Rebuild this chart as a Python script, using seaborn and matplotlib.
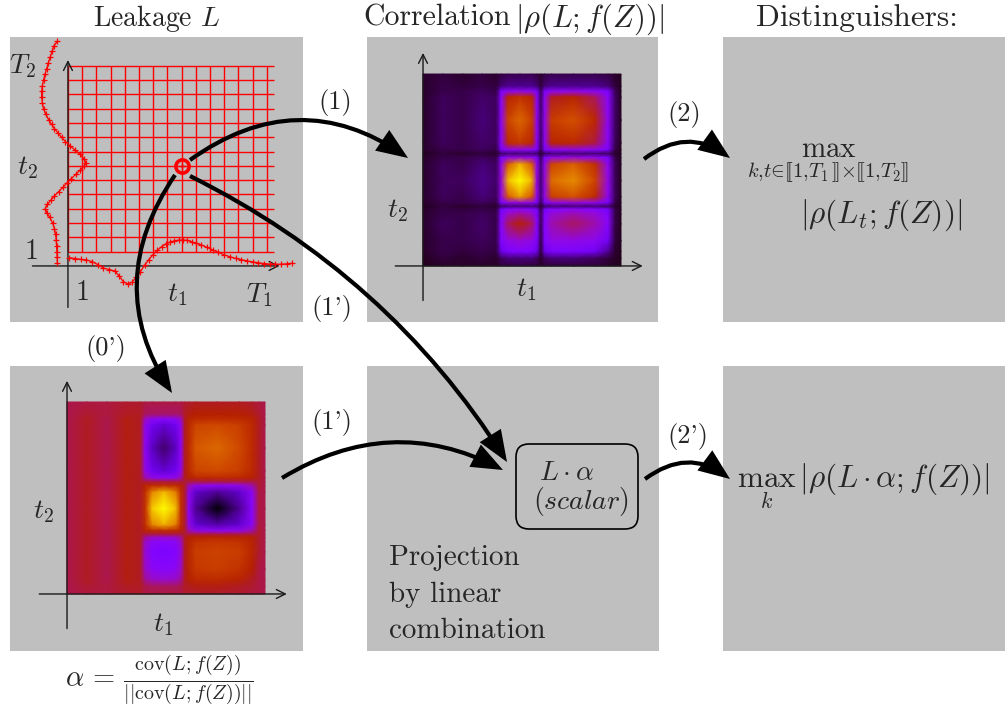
import numpy as np
import matplotlib
matplotlib.use("Agg")
import matplotlib.pyplot as plt
import seaborn as sns
from matplotlib.patches import FancyArrowPatch, FancyBboxPatch

# ---------------------------------------------------------------- data
# leakage grid size and the selected sample (t1, t2)
T1, T2 = 14, 14
t1_sel, t2_sel = 8, 7

# leakage trace along t1 (drawn under the grid)
trace1_t = [0.1, 0.5, 0.9, 1.3, 1.7, 2.1, 2.5, 2.9, 3.3, 3.6, 3.9, 4.2, 4.5, 4.8, 5.1,
            5.4, 5.7, 6.0, 6.3, 6.6, 6.9, 7.2, 7.5, 7.8, 8.1, 8.4, 8.7, 9.0, 9.4, 9.8,
            10.2, 10.6, 11.0, 11.4, 11.8, 12.2, 12.6, 13.0, 13.4, 13.8, 14.2, 14.6, 15.0,
            15.4, 15.8]
trace1_v = [0.58, 0.52, 0.46, 0.42, 0.30, 0.10, -0.15, -0.25, -0.35, -0.70, -1.10, -1.25,
            -1.15, -0.80, -0.40, 0.05, 0.45, 0.80, 1.10, 1.35, 1.55, 1.68, 1.76, 1.81, 1.82,
            1.78, 1.70, 1.60, 1.46, 1.30, 1.12, 0.95, 0.78, 0.64, 0.53, 0.44, 0.36, 0.28,
            0.22, 0.17, 0.13, 0.12, 0.12, 0.15, 0.19]

# leakage trace along t2 (drawn left of the grid)
trace2_t = [0.2, 0.6, 1.0, 1.4, 1.8, 2.2, 2.6, 3.0, 3.4, 3.7, 4.0, 4.3, 4.6, 4.9, 5.2, 5.5,
            5.8, 6.1, 6.4, 6.7, 7.0, 7.2, 7.5, 7.8, 8.1, 8.4, 8.7, 9.0, 9.3, 9.6, 9.9, 10.2,
            10.6, 11.0, 11.4, 11.8, 12.2, 12.6, 13.0, 13.4, 13.8, 14.2, 14.6, 15.0, 15.4, 15.7]
trace2_v = [-0.75, -0.76, -0.78, -0.80, -0.83, -0.87, -0.95, -1.08, -1.28, -1.48, -1.60,
            -1.45, -1.20, -0.95, -0.65, -0.35, -0.08, 0.22, 0.55, 0.85, 1.15, 1.27, 1.12,
            0.85, 0.50, 0.15, -0.18, -0.45, -0.70, -0.95, -1.15, -1.35, -1.55, -1.72, -1.80,
            -1.85, -1.85, -1.80, -1.72, -1.62, -1.50, -1.38, -1.25, -1.12, -0.98, -0.75]

# sample positions of the 2-D maps (fractions of the t1 / t2 ranges)
map_t1 = [0.00, 0.10, 0.20, 0.30, 0.37, 0.395, 0.43, 0.49, 0.55, 0.575, 0.595, 0.615,
          0.65, 0.76, 0.87, 0.935, 0.97, 1.00]
map_t2 = [1.00, 0.935, 0.91, 0.88, 0.76, 0.64, 0.605, 0.585, 0.565, 0.53, 0.445, 0.36,
          0.33, 0.31, 0.295, 0.27, 0.22, 0.13, 0.075, 0.04, 0.00]

# |rho(L; f(Z))| (normalised), one row per t2 sample, top row first
corr_map = [
    [0.03, 0.04, 0.03, 0.04, 0.03, 0.04, 0.05, 0.05, 0.05, 0.04, 0.03, 0.04, 0.05, 0.05, 0.05, 0.04, 0.03, 0.02],
    [0.03, 0.05, 0.04, 0.05, 0.04, 0.08, 0.10, 0.10, 0.10, 0.08, 0.04, 0.08, 0.10, 0.10, 0.10, 0.08, 0.04, 0.02],
    [0.03, 0.05, 0.05, 0.06, 0.05, 0.24, 0.30, 0.32, 0.30, 0.24, 0.06, 0.24, 0.30, 0.32, 0.30, 0.24, 0.06, 0.02],
    [0.03, 0.06, 0.05, 0.07, 0.06, 0.28, 0.52, 0.58, 0.52, 0.30, 0.07, 0.30, 0.48, 0.52, 0.44, 0.28, 0.07, 0.02],
    [0.03, 0.06, 0.05, 0.08, 0.06, 0.30, 0.64, 0.74, 0.62, 0.32, 0.08, 0.32, 0.62, 0.68, 0.54, 0.30, 0.07, 0.02],
    [0.03, 0.06, 0.05, 0.07, 0.06, 0.28, 0.54, 0.60, 0.52, 0.30, 0.07, 0.30, 0.52, 0.54, 0.46, 0.28, 0.06, 0.02],
    [0.03, 0.05, 0.05, 0.06, 0.05, 0.24, 0.30, 0.32, 0.30, 0.24, 0.06, 0.24, 0.30, 0.32, 0.30, 0.24, 0.05, 0.02],
    [0.02, 0.04, 0.03, 0.04, 0.03, 0.06, 0.08, 0.08, 0.08, 0.06, 0.03, 0.06, 0.08, 0.08, 0.08, 0.06, 0.03, 0.02],
    [0.03, 0.05, 0.05, 0.06, 0.05, 0.24, 0.32, 0.34, 0.32, 0.24, 0.06, 0.24, 0.32, 0.34, 0.32, 0.24, 0.05, 0.02],
    [0.03, 0.06, 0.05, 0.08, 0.06, 0.32, 0.70, 0.88, 0.70, 0.32, 0.08, 0.32, 0.64, 0.72, 0.56, 0.30, 0.06, 0.02],
    [0.03, 0.06, 0.06, 0.09, 0.07, 0.34, 0.90, 1.00, 0.88, 0.34, 0.08, 0.34, 0.75, 0.82, 0.64, 0.32, 0.06, 0.02],
    [0.03, 0.06, 0.05, 0.08, 0.06, 0.32, 0.70, 0.85, 0.68, 0.32, 0.08, 0.32, 0.62, 0.68, 0.54, 0.30, 0.06, 0.02],
    [0.03, 0.05, 0.05, 0.06, 0.05, 0.24, 0.32, 0.34, 0.32, 0.24, 0.06, 0.24, 0.32, 0.34, 0.32, 0.24, 0.05, 0.02],
    [0.02, 0.04, 0.03, 0.04, 0.03, 0.06, 0.08, 0.08, 0.08, 0.06, 0.03, 0.06, 0.08, 0.08, 0.08, 0.06, 0.03, 0.02],
    [0.03, 0.05, 0.04, 0.05, 0.04, 0.22, 0.28, 0.30, 0.28, 0.22, 0.05, 0.22, 0.28, 0.30, 0.28, 0.22, 0.05, 0.02],
    [0.03, 0.05, 0.05, 0.06, 0.05, 0.26, 0.36, 0.40, 0.36, 0.26, 0.06, 0.26, 0.34, 0.38, 0.34, 0.26, 0.05, 0.02],
    [0.03, 0.06, 0.05, 0.07, 0.05, 0.28, 0.44, 0.50, 0.44, 0.28, 0.06, 0.28, 0.38, 0.44, 0.38, 0.28, 0.05, 0.02],
    [0.03, 0.05, 0.05, 0.06, 0.05, 0.26, 0.32, 0.34, 0.32, 0.26, 0.05, 0.26, 0.32, 0.32, 0.30, 0.20, 0.04, 0.02],
    [0.03, 0.05, 0.04, 0.05, 0.04, 0.18, 0.24, 0.26, 0.24, 0.18, 0.04, 0.18, 0.24, 0.24, 0.20, 0.10, 0.03, 0.02],
    [0.02, 0.04, 0.03, 0.04, 0.03, 0.06, 0.08, 0.08, 0.08, 0.06, 0.03, 0.06, 0.08, 0.08, 0.06, 0.04, 0.03, 0.02],
    [0.02, 0.03, 0.03, 0.03, 0.03, 0.04, 0.04, 0.05, 0.04, 0.04, 0.03, 0.04, 0.04, 0.04, 0.04, 0.03, 0.02, 0.02],
]

# signed projection vector alpha (rescaled to [0, 1]), same layout
alpha_map = [
    [0.45, 0.46, 0.46, 0.47, 0.47, 0.46, 0.46, 0.46, 0.46, 0.46, 0.47, 0.47, 0.48, 0.48, 0.48, 0.47, 0.46, 0.45],
    [0.45, 0.47, 0.46, 0.48, 0.48, 0.44, 0.43, 0.43, 0.43, 0.44, 0.48, 0.49, 0.50, 0.50, 0.50, 0.49, 0.47, 0.45],
    [0.45, 0.48, 0.45, 0.49, 0.48, 0.36, 0.30, 0.28, 0.30, 0.36, 0.48, 0.52, 0.55, 0.56, 0.55, 0.52, 0.48, 0.45],
    [0.45, 0.48, 0.45, 0.49, 0.48, 0.32, 0.20, 0.16, 0.20, 0.32, 0.48, 0.54, 0.64, 0.66, 0.62, 0.54, 0.48, 0.45],
    [0.45, 0.48, 0.45, 0.49, 0.48, 0.30, 0.14, 0.07, 0.14, 0.30, 0.48, 0.55, 0.70, 0.74, 0.66, 0.55, 0.48, 0.45],
    [0.45, 0.48, 0.45, 0.49, 0.48, 0.32, 0.20, 0.16, 0.20, 0.32, 0.48, 0.54, 0.64, 0.66, 0.62, 0.54, 0.48, 0.45],
    [0.45, 0.48, 0.45, 0.49, 0.48, 0.38, 0.32, 0.30, 0.32, 0.38, 0.48, 0.51, 0.54, 0.55, 0.54, 0.51, 0.48, 0.45],
    [0.45, 0.48, 0.45, 0.49, 0.48, 0.46, 0.46, 0.46, 0.46, 0.46, 0.47, 0.46, 0.46, 0.46, 0.46, 0.46, 0.47, 0.45],
    [0.45, 0.48, 0.45, 0.49, 0.48, 0.52, 0.55, 0.56, 0.55, 0.52, 0.47, 0.38, 0.32, 0.30, 0.32, 0.38, 0.47, 0.45],
    [0.45, 0.48, 0.45, 0.49, 0.48, 0.56, 0.80, 0.90, 0.78, 0.56, 0.47, 0.32, 0.15, 0.10, 0.15, 0.30, 0.46, 0.45],
    [0.45, 0.48, 0.45, 0.49, 0.48, 0.58, 0.92, 1.00, 0.90, 0.58, 0.47, 0.30, 0.10, 0.00, 0.10, 0.28, 0.46, 0.45],
    [0.45, 0.48, 0.45, 0.49, 0.48, 0.56, 0.80, 0.88, 0.78, 0.56, 0.47, 0.32, 0.16, 0.12, 0.16, 0.30, 0.46, 0.45],
    [0.45, 0.48, 0.45, 0.49, 0.48, 0.52, 0.55, 0.56, 0.55, 0.52, 0.47, 0.38, 0.32, 0.30, 0.32, 0.38, 0.47, 0.45],
    [0.45, 0.48, 0.45, 0.49, 0.48, 0.46, 0.46, 0.46, 0.46, 0.46, 0.47, 0.46, 0.46, 0.46, 0.46, 0.46, 0.47, 0.45],
    [0.45, 0.48, 0.45, 0.49, 0.48, 0.40, 0.36, 0.35, 0.36, 0.40, 0.48, 0.50, 0.52, 0.52, 0.52, 0.50, 0.47, 0.45],
    [0.45, 0.48, 0.45, 0.49, 0.48, 0.36, 0.30, 0.28, 0.30, 0.36, 0.48, 0.52, 0.58, 0.60, 0.58, 0.52, 0.47, 0.45],
    [0.45, 0.48, 0.45, 0.49, 0.48, 0.34, 0.26, 0.24, 0.26, 0.34, 0.48, 0.53, 0.62, 0.64, 0.62, 0.53, 0.47, 0.45],
    [0.45, 0.48, 0.45, 0.49, 0.48, 0.36, 0.30, 0.28, 0.30, 0.36, 0.48, 0.52, 0.60, 0.62, 0.58, 0.50, 0.46, 0.45],
    [0.45, 0.48, 0.45, 0.49, 0.48, 0.40, 0.36, 0.35, 0.36, 0.40, 0.48, 0.50, 0.54, 0.55, 0.52, 0.48, 0.46, 0.45],
    [0.45, 0.47, 0.46, 0.48, 0.48, 0.45, 0.44, 0.44, 0.44, 0.45, 0.48, 0.48, 0.49, 0.49, 0.48, 0.47, 0.46, 0.45],
    [0.45, 0.46, 0.46, 0.47, 0.47, 0.46, 0.46, 0.46, 0.46, 0.46, 0.47, 0.47, 0.47, 0.47, 0.47, 0.46, 0.46, 0.45],
]

# ---------------------------------------------------------------- style
sns.set_theme(style="white")
plt.rcParams["font.family"] = "serif"
plt.rcParams["font.serif"] = ["cmr10", "DejaVu Serif"]
plt.rcParams["mathtext.fontset"] = "cm"
plt.rcParams["axes.unicode_minus"] = False

W, H = 1005, 706
PANEL = "#bfbfbf"
fig = plt.figure(figsize=(W / 100, H / 100), dpi=100)
fig.patch.set_facecolor("white")


def panel(x0, y0, x1, y1):
    ax = fig.add_axes([x0 / W, 1 - y1 / H, (x1 - x0) / W, (y1 - y0) / H])
    ax.set_facecolor(PANEL)
    for s in ax.spines.values():
        s.set_visible(False)
    ax.set_xticks([])
    ax.set_yticks([])
    ax.grid(False)
    return ax


def axis_arrow(ax, start, end):
    ax.annotate("", xy=end, xytext=start,
                arrowprops=dict(arrowstyle="->", lw=1.0, color="#1a1a1a",
                                mutation_scale=16, shrinkA=0, shrinkB=0),
                annotation_clip=False)


# ---------------------------------------------------------------- leakage panel
ax_l = panel(10, 37, 303, 322)
ax_l.set_xlim(-4.08, 16.55)
ax_l.set_ylim(-3.92, 16.01)
ax_l.vlines(np.arange(0, T1 + 1), 1, T2, color="red", lw=1.0, zorder=1)
ax_l.hlines(np.arange(1, T2 + 1), 0, T1 + 0.5, color="red", lw=1.0, zorder=1)
axis_arrow(ax_l, (-2.5, 0), (14.9, 0))
axis_arrow(ax_l, (0, -2.9), (0, 14.4))
sns.lineplot(x=trace1_t, y=trace1_v, sort=False, estimator=None, color="red", lw=0.9,
             marker="+", markersize=4, markeredgewidth=0.9, markeredgecolor="red",
             ax=ax_l, legend=False, zorder=3)
sns.lineplot(x=trace2_v, y=trace2_t, sort=False, estimator=None, color="red", lw=0.9,
             marker="+", markersize=4, markeredgewidth=0.9, markeredgecolor="red",
             ax=ax_l, legend=False, zorder=3)
ax_l.plot([t1_sel], [t2_sel], marker="o", ms=9.5, mfc="none", mec="red", mew=2.6, zorder=6)
ax_l.plot([t1_sel], [t2_sel], marker="+", ms=6, mec="red", mew=1.0, zorder=6)
lab = dict(ha="center", va="center", fontsize=20)
ax_l.text(-3.17, 13.99, r"$T_2$", **lab)
ax_l.text(-2.89, 6.85, r"$t_2$", **lab)
ax_l.text(-2.6, 0.98, r"$1$", **lab)
ax_l.text(0.99, -1.89, r"$1$", **lab)
ax_l.text(7.68, -2.03, r"$t_1$", **lab)
ax_l.text(13.45, -2.03, r"$T_1$", **lab)

# ---------------------------------------------------------------- 2-D maps
gx, gy = np.meshgrid(map_t1, map_t2)


def map_panel(box, xlim, ylim, values, lab_t2, lab_t1):
    ax = panel(*box)
    ax.set_xlim(*xlim)
    ax.set_ylim(*ylim)
    ax.pcolormesh(gx, gy, np.array(values), shading="gouraud", cmap="gnuplot",
                  vmin=0, vmax=1, zorder=1)
    axis_arrow(ax, (-0.14, 0), (1.11, 0))
    axis_arrow(ax, (0, -0.18), (0, 1.11))
    ax.text(*lab_t2, r"$t_2$", **lab)
    ax.text(*lab_t1, r"$t_1$", **lab)
    return ax


map_panel((367, 37, 658, 322), (-0.283, 1.187), (-0.292, 1.193), corr_map,
          (-0.13, 0.29), (0.52, -0.125))
map_panel((10, 366, 303, 651), (-0.288, 1.192), (-0.297, 1.1875), alpha_map,
          (-0.12, 0.43), (0.485, -0.16))

# plain panels
panel(723, 37, 1005, 322)
panel(367, 366, 659, 651)
panel(723, 366, 1005, 651)

# ---------------------------------------------------------------- overlay: arrows and text
ov = fig.add_axes([0, 0, 1, 1])
ov.set_xlim(0, W)
ov.set_ylim(H, 0)
ov.axis("off")
ov.patch.set_alpha(0)


def flow(a, b, rad):
    p = FancyArrowPatch(a, b, connectionstyle=f"arc3,rad={rad}",
                        arrowstyle="-|>,head_length=0.85,head_width=0.34",
                        mutation_scale=20, lw=3.0, color="black",
                        shrinkA=0, shrinkB=0, joinstyle="miter", capstyle="butt", zorder=5)
    ov.add_patch(p)


flow((190, 160), (408, 158), -0.35)   # (1)
flow((175, 175), (172, 393), 0.33)    # (0')
flow((190, 176), (507, 462), -0.14)   # (1') from the sample
flow((282, 478), (503, 470), -0.28)   # (1') from alpha
flow((644, 159), (730, 158), -0.37)   # (2)
flow((645, 479), (730, 479), -0.37)   # (2')

ov.add_patch(FancyBboxPatch((516, 444), 122, 85,
                            boxstyle="round,pad=0,rounding_size=13",
                            fc="none", ec="black", lw=1.2, zorder=4))

# column titles
ov.text(157, 26, r"Leakage $L$", ha="center", va="baseline", fontsize=20)
ov.text(363, 26, "Correlation", ha="left", va="baseline", fontsize=21.5)
ov.text(515, 27, r"$|\rho(L;f(Z))|$", ha="left", va="baseline", fontsize=22)
ov.text(857, 26, "Distinguishers:", ha="center", va="baseline", fontsize=22.5)

step = dict(ha="center", va="center", fontsize=19)
ov.text(335, 102, "(1)", **step)
ov.text(684, 114, "(2)", **step)
ov.text(332, 308, "(1')", **step)
ov.text(106, 348, "(0')", **step)
ov.text(332, 423, "(1')", **step)
ov.text(688, 437, "(2')", **step)

ov.text(567, 473, r"$L\cdot\alpha$", ha="center", va="center", fontsize=20)
ov.text(581, 502, r"$(\mathit{scalar})$", ha="center", va="center", fontsize=20)

body = dict(ha="left", va="baseline", fontsize=21)
ov.text(389, 565, "Projection", **body)
ov.text(389, 602, "by linear", **body)
ov.text(389, 638, "combination", **body)

ov.text(828, 163, r"$\max_{k{,}t\in[\![1{,}T_1]\!]{\times}[\![1{,}T_2]\!]}$",
        ha="center", va="center", fontsize=21)
ov.text(881, 215, r"$|\rho(L_t;f(Z))|$", ha="center", va="center", fontsize=22.5)
ov.text(737, 487, r"$\max_{k}\,|\rho(L\,\cdot\,\alpha;f(Z))|$", ha="left",
        va="baseline", fontsize=22.5)

ov.text(159, 680, r"$\alpha\,=\,\frac{\mathrm{cov}(L;f(Z))}{||\mathrm{cov}(L;f(Z))||}$",
        ha="center", va="center", fontsize=20.5)

fig.savefig("out.png", dpi=100)
